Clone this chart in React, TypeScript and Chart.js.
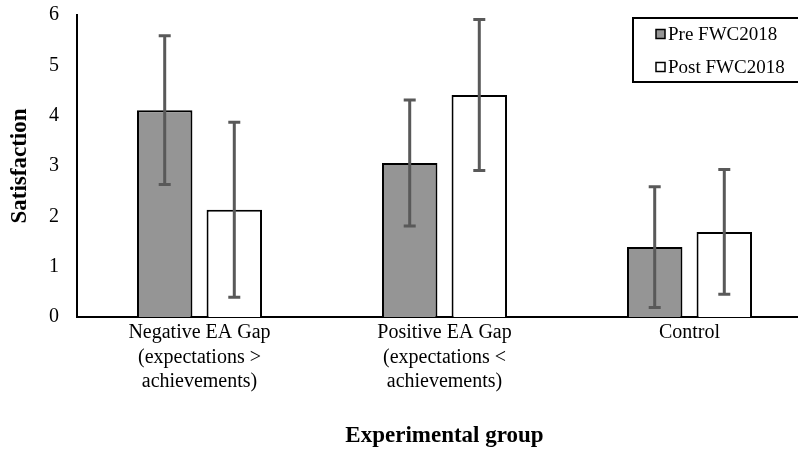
import React, { useEffect, useRef } from "react";
import { Chart, registerables } from "chart.js";

Chart.register(...registerables);

const categories: string[][] = [
  ["Negative EA Gap", "(expectations >", "achievements)"],
  ["Positive EA Gap", "(expectations <", "achievements)"],
  ["Control"],
];
const seriesLabels = ["Pre FWC2018", "Post FWC2018"];
const preValues = [4.11, 3.06, 1.39];
const postValues = [2.13, 4.41, 1.69];
const preErrors = [1.48, 1.25, 1.2];
const postErrors = [1.74, 1.5, 1.24];
const yTicks = [0, 1, 2, 3, 4, 5, 6];

const FONT = "'Liberation Serif', 'Times New Roman', serif";

const errorBarPlugin = {
  id: "errorBars",
  afterDatasetsDraw(chart: any) {
    const ctx = chart.ctx;
    const y = chart.scales.y;
    const errs = [preErrors, postErrors];
    ctx.save();
    ctx.strokeStyle = "#595959";
    ctx.lineWidth = 3;
    chart.data.datasets.forEach((ds: any, di: number) => {
      const meta = chart.getDatasetMeta(di);
      meta.data.forEach((bar: any, i: number) => {
        const v = ds.data[i];
        const e = errs[di][i];
        const top = y.getPixelForValue(v + e);
        const bot = y.getPixelForValue(v - e);
        const x = bar.x;
        ctx.beginPath();
        ctx.moveTo(x, top);
        ctx.lineTo(x, bot);
        ctx.moveTo(x - 6, top);
        ctx.lineTo(x + 6, top);
        ctx.moveTo(x - 6, bot);
        ctx.lineTo(x + 6, bot);
        ctx.stroke();
      });
    });
    ctx.restore();
  },
};

const legendPlugin = {
  id: "boxLegend",
  afterDraw(chart: any) {
    const ctx = chart.ctx;
    ctx.save();
    ctx.fillStyle = "#ffffff";
    ctx.fillRect(633, 18, 200, 64);
    ctx.strokeStyle = "#000";
    ctx.lineWidth = 2;
    ctx.strokeRect(633, 18, 200, 64);
    const ys = [34, 67];
    chart.data.datasets.forEach((ds: any, i: number) => {
      ctx.fillStyle = ds.backgroundColor;
      ctx.fillRect(656, ys[i] - 4.5, 9, 9);
      ctx.lineWidth = 1.5;
      ctx.strokeStyle = "#000";
      ctx.strokeRect(656, ys[i] - 4.5, 9, 9);
      ctx.fillStyle = "#000";
      ctx.font = `19px ${FONT}`;
      ctx.textBaseline = "middle";
      ctx.textAlign = "left";
      ctx.fillText(ds.label, 668, ys[i] + 1);
    });
    ctx.restore();
  },
};

export default function App() {
  const ref = useRef<HTMLCanvasElement>(null);
  useEffect(() => {
    document.documentElement.style.overflow = "hidden";
    document.body.style.overflow = "hidden";
    const chart = new Chart(ref.current!, {
      type: "bar",
      data: {
        labels: categories,
        datasets: [
          {
            label: seriesLabels[0],
            data: preValues,
            backgroundColor: "#959595",
            borderColor: "#000",
            borderWidth: 2,
          },
          {
            label: seriesLabels[1],
            data: postValues,
            backgroundColor: "#ffffff",
            borderColor: "#000",
            borderWidth: 2,
          },
        ],
      },
      options: {
        animation: false,
        responsive: false,
        maintainAspectRatio: false,
        layout: { padding: { top: 15, left: 6, right: 0, bottom: 0 } },
        datasets: { bar: { categoryPercentage: 0.568, barPercentage: 0.797 } },
        plugins: { legend: { display: false }, tooltip: { enabled: false } },
        scales: {
          x: {
            offset: true,
            grid: { display: false, drawTicks: false },
            border: { color: "#000", width: 2 },
            ticks: {
              color: "#000",
              font: { family: FONT, size: 20, lineHeight: 1.22 },
              padding: 4,
              maxRotation: 0,
              autoSkip: false,
            },
            title: {
              display: true,
              text: "Experimental group",
              color: "#000",
              font: { family: FONT, size: 23, weight: "bold" },
              padding: { top: 0, bottom: 0 },
            },
            afterFit: (s: any) => {
              s.height = 133;
              s.paddingLeft = 0;
              s.paddingRight = 0;
            },
          } as any,
          y: {
            min: 0,
            max: 6,
            afterBuildTicks: (s: any) => {
              s.ticks = yTicks.map((v) => ({ value: v }));
            },
            grid: { display: false, drawTicks: false },
            border: { color: "#000", width: 2 },
            ticks: {
              color: "#000",
              font: { family: FONT, size: 20 },
              padding: 18,
            },
            title: {
              display: true,
              text: "Satisfaction",
              color: "#000",
              font: { family: FONT, size: 23, weight: "bold" },
              padding: { top: 0, bottom: 6 },
            },
            afterFit: (s: any) => {
              s.width = 71;
              s.paddingTop = 0;
              s.paddingBottom = 0;
            },
          } as any,
        },
      },
      plugins: [errorBarPlugin, legendPlugin],
    });
    return () => chart.destroy();
  }, []);
  return (
    <div style={{ position: "absolute", left: 0, top: 0, width: 812, height: 450, background: "#fff" }}>
      <canvas ref={ref} width={812} height={450} style={{ display: "block" }} />
    </div>
  );
}
